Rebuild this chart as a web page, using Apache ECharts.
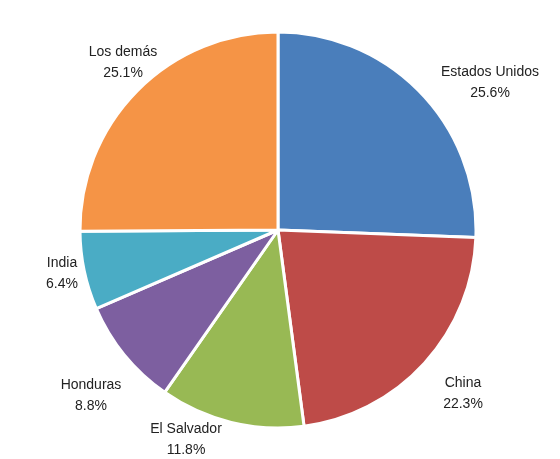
<!DOCTYPE html>
<html>
<head>
<meta charset="utf-8">
<script src="https://cdn.jsdelivr.net/npm/echarts@6/dist/echarts.min.js"></script>
<style>
html,body{margin:0;padding:0;background:#fff;}
#chart{width:560px;height:459px;}
</style>
</head>
<body>
<div id="chart"></div>
<script>
var categories = ['Estados Unidos', 'China', 'El Salvador', 'Honduras', 'India', 'Los demás'];
var shares = [25.6, 22.3, 11.8, 8.8, 6.4, 25.1];
var colors = ['#4A7EBB', '#BE4B48', '#98B954', '#7D5FA0', '#4AACC5', '#F59446'];

// label anchor points (px)
var labelPos = [[490, 83], [463, 394], [186, 440], [91, 396], [62, 274], [123, 63]];

var chart = echarts.init(document.getElementById('chart'));
chart.setOption({
  animation: false,
  backgroundColor: '#fff',
  series: [{
    type: 'pie',
    center: [278, 230],
    radius: [0, 198],
    startAngle: 90,
    clockwise: true,
    data: categories.map(function (c, i) {
      return { name: c, value: shares[i], itemStyle: { color: colors[i] } };
    }),
    itemStyle: { borderColor: '#fff', borderWidth: 3 },
    label: {
      show: true,
      position: 'inside',
      formatter: function (p) { return p.name + '\n' + p.value.toFixed(1) + '%'; },
      fontFamily: 'Liberation Sans, Arial, sans-serif',
      fontSize: 14,
      lineHeight: 21,
      color: '#222',
      align: 'center',
      overflow: 'none'
    },
    labelLine: { show: false },
    labelLayout: function (params) {
      var p = labelPos[params.dataIndex];
      return { x: p[0], y: p[1], align: 'center', verticalAlign: 'middle' };
    },
    emphasis: { disabled: true }
  }]
});
</script>
</body>
</html>
